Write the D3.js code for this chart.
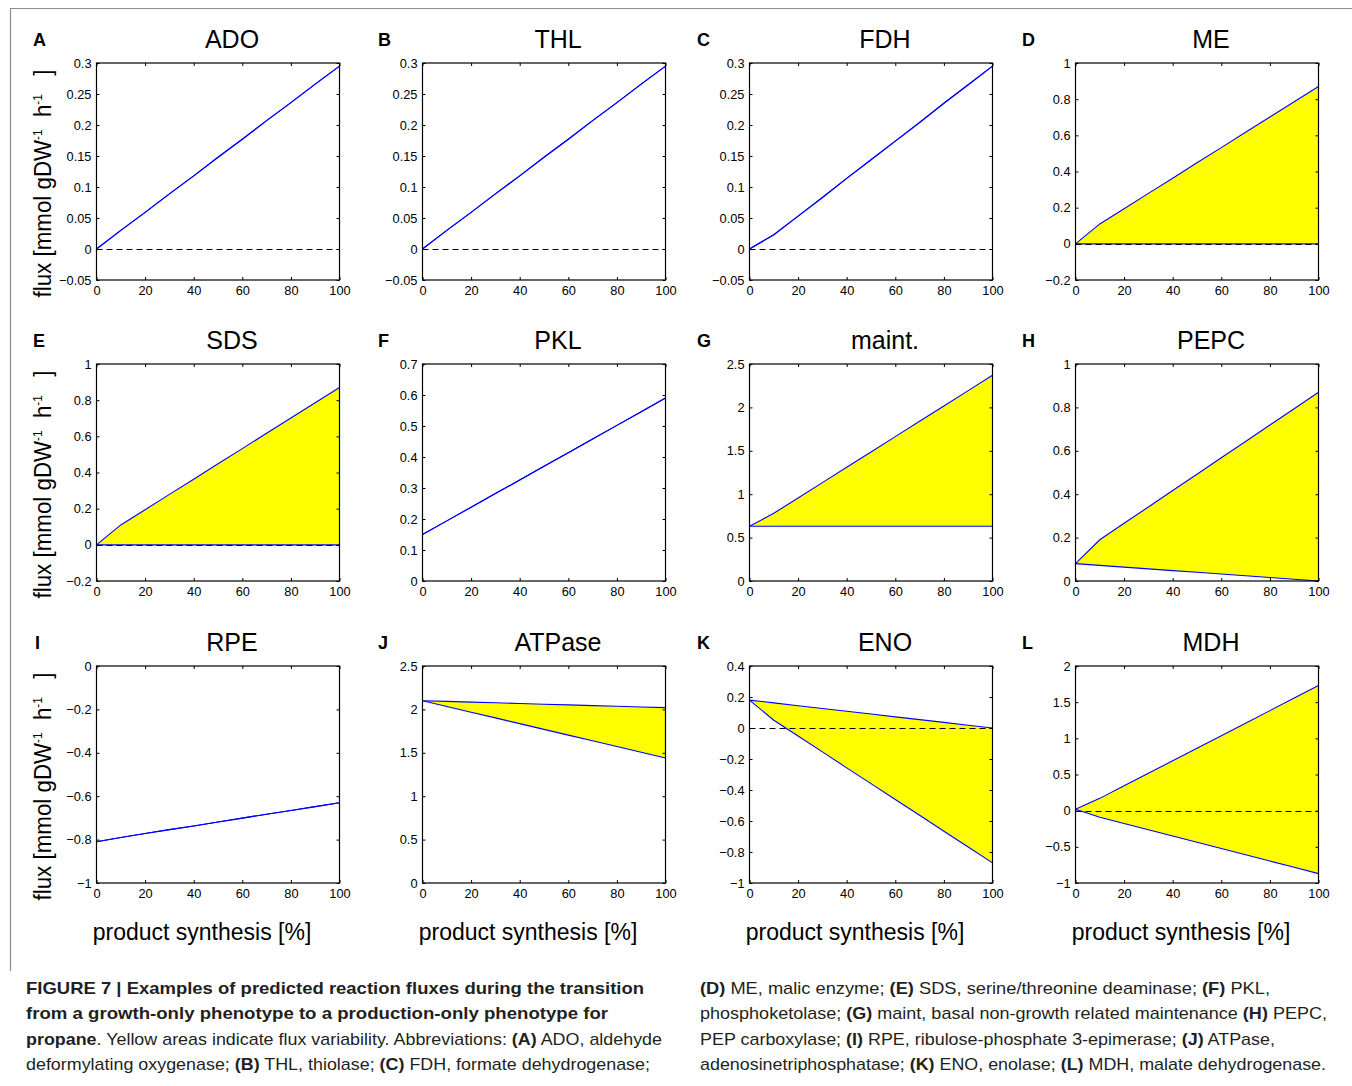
<!DOCTYPE html>
<html>
<head>
<meta charset="utf-8">
<script src="https://cdn.jsdelivr.net/npm/d3@7"></script>
<style>
body { margin: 0; background: #fff; }
text { font-family: "Liberation Sans", Arial, Helvetica, sans-serif; }
</style>
</head>
<body>
<svg id="fig" width="1352" height="1086"></svg>
<script>
// product synthesis steps (%)
var xPct = [0, 10, 20, 30, 40, 50, 60, 70, 80, 90, 100];
var xTicks = [0, 20, 40, 60, 80, 100];

// fluxes (mmol gDW-1 h-1)
var adoFlux = [0, 0.03, 0.059, 0.089, 0.118, 0.148, 0.177, 0.207, 0.236, 0.266, 0.295];
var thlFlux = [0, 0.03, 0.059, 0.089, 0.118, 0.148, 0.177, 0.207, 0.236, 0.266, 0.295];
var fdhFlux = [0, 0.023, 0.053, 0.083, 0.114, 0.144, 0.174, 0.204, 0.235, 0.265, 0.295];
var meMax = [0, 0.11, 0.194, 0.279, 0.363, 0.448, 0.532, 0.617, 0.701, 0.786, 0.87];
var meMin = [0, 0, 0, 0, 0, 0, 0, 0, 0, 0, 0];
var sdsMax = [0, 0.11, 0.194, 0.279, 0.363, 0.448, 0.532, 0.617, 0.701, 0.786, 0.87];
var sdsMin = [0, 0, 0, 0, 0, 0, 0, 0, 0, 0, 0];
var pklFlux = [0.15, 0.194, 0.238, 0.282, 0.326, 0.37, 0.414, 0.458, 0.502, 0.546, 0.59];
var maintMax = [0.63, 0.78, 0.957, 1.133, 1.31, 1.487, 1.663, 1.84, 2.017, 2.193, 2.37];
var maintMin = [0.63, 0.63, 0.63, 0.63, 0.63, 0.63, 0.63, 0.63, 0.63, 0.63, 0.63];
var pepcMax = [0.08, 0.19, 0.266, 0.341, 0.417, 0.492, 0.568, 0.643, 0.719, 0.794, 0.87];
var pepcMin = [0.08, 0.072, 0.064, 0.056, 0.048, 0.04, 0.032, 0.024, 0.016, 0.008, 0];
var rpeFlux = [-0.81, -0.79, -0.772, -0.754, -0.737, -0.719, -0.701, -0.683, -0.666, -0.648, -0.63];
var atpMax = [2.1, 2.092, 2.084, 2.076, 2.068, 2.06, 2.052, 2.044, 2.036, 2.028, 2.02];
var atpMin = [2.1, 2.034, 1.968, 1.902, 1.836, 1.77, 1.704, 1.638, 1.572, 1.506, 1.44];
var enoMax = [0.18, 0.162, 0.144, 0.126, 0.108, 0.09, 0.072, 0.054, 0.036, 0.018, 0];
var enoMin = [0.18, 0.05, -0.052, -0.154, -0.257, -0.359, -0.461, -0.563, -0.666, -0.768, -0.87];
var mdhMax = [0.02, 0.17, 0.343, 0.517, 0.69, 0.863, 1.037, 1.21, 1.383, 1.557, 1.73];
var mdhMin = [0.02, -0.09, -0.177, -0.263, -0.35, -0.437, -0.523, -0.61, -0.697, -0.783, -0.87];

var letters = ["A", "B", "C", "D", "E", "F", "G", "H", "I", "J", "K", "L"];
var titles = ["ADO", "THL", "FDH", "ME", "SDS", "PKL", "maint.", "PEPC", "RPE", "ATPase", "ENO", "MDH"];
var yTicksList = [
  [-0.05, 0, 0.05, 0.1, 0.15, 0.2, 0.25, 0.3],
  [-0.05, 0, 0.05, 0.1, 0.15, 0.2, 0.25, 0.3],
  [-0.05, 0, 0.05, 0.1, 0.15, 0.2, 0.25, 0.3],
  [-0.2, 0, 0.2, 0.4, 0.6, 0.8, 1],
  [-0.2, 0, 0.2, 0.4, 0.6, 0.8, 1],
  [0, 0.1, 0.2, 0.3, 0.4, 0.5, 0.6, 0.7],
  [0, 0.5, 1, 1.5, 2, 2.5],
  [0, 0.2, 0.4, 0.6, 0.8, 1],
  [-1, -0.8, -0.6, -0.4, -0.2, 0],
  [0, 0.5, 1, 1.5, 2, 2.5],
  [-1, -0.8, -0.6, -0.4, -0.2, 0, 0.2, 0.4],
  [-1, -0.5, 0, 0.5, 1, 1.5, 2]
];
var upper = [adoFlux, thlFlux, fdhFlux, meMax, sdsMax, pklFlux, maintMax, pepcMax, rpeFlux, atpMax, enoMax, mdhMax];
var lower = [adoFlux, thlFlux, fdhFlux, meMin, sdsMin, pklFlux, maintMin, pepcMin, rpeFlux, atpMin, enoMin, mdhMin];

var captionLeft = [
  [["FIGURE 7 | Examples of predicted reaction fluxes during the transition", true]],
  [["from a growth-only phenotype to a production-only phenotype for", true]],
  [["propane", true], [". Yellow areas indicate flux variability. Abbreviations: ", false], ["(A)", true], [" ADO, aldehyde", false]],
  [["deformylating oxygenase; ", false], ["(B)", true], [" THL, thiolase; ", false], ["(C)", true], [" FDH, formate dehydrogenase;", false]]
];
var captionRight = [
  [["(D)", true], [" ME, malic enzyme; ", false], ["(E)", true], [" SDS, serine/threonine deaminase; ", false], ["(F)", true], [" PKL,", false]],
  [["phosphoketolase; ", false], ["(G)", true], [" maint, basal non-growth related maintenance ", false], ["(H)", true], [" PEPC,", false]],
  [["PEP carboxylase; ", false], ["(I)", true], [" RPE, ribulose-phosphate 3-epimerase; ", false], ["(J)", true], [" ATPase,", false]],
  [["adenosinetriphosphatase; ", false], ["(K)", true], [" ENO, enolase; ", false], ["(L)", true], [" MDH, malate dehydrogenase.", false]]
];

var svg = d3.select("#fig");
var colLeft = [96.5, 422.5, 749.5, 1075.5];
var rowTop = [63, 364, 666];
var pw = 243, ph = 217;
var letterX = [33, 378, 697, 1022];

function fmt(v) {
  var s = String(+v.toFixed(2));
  return v < 0 ? "\u2212" + s.slice(1) : s;
}

// outer frame
svg.append("path").attr("d", "M10.5,971V8.5H1352")
  .attr("fill", "none").attr("stroke", "#8c8c8c").attr("stroke-width", 1.2);

titles.forEach(function(title, i) {
  var r = Math.floor(i / 4), c = i % 4;
  var left = colLeft[c], top = rowTop[r];
  var ticks = yTicksList[i];
  var x = d3.scaleLinear().domain([0, 100]).range([left, left + pw]);
  var y = d3.scaleLinear().domain([ticks[0], ticks[ticks.length - 1]]).range([top + ph, top]);
  var g = svg.append("g");

  var pts = xPct.map(function(p, k) { return { x: p, hi: upper[i][k], lo: lower[i][k] }; });
  g.append("path").datum(pts)
    .attr("fill", "#ffff00")
    .attr("d", d3.area().x(function(d) { return x(d.x); })
      .y0(function(d) { return y(d.lo); }).y1(function(d) { return y(d.hi); }));
  [upper[i], lower[i]].forEach(function(arr) {
    g.append("path").datum(arr)
      .attr("fill", "none").attr("stroke", "#0000ff").attr("stroke-width", 1.1)
      .attr("d", d3.line().x(function(d, k) { return x(xPct[k]); }).y(function(d) { return y(d); }));
  });

  if (ticks[0] < 0 && ticks[ticks.length - 1] > 0) {
    var y0 = Math.round(y(0)) + 0.5;
    g.append("line")
      .attr("x1", x(0)).attr("x2", x(100)).attr("y1", y0).attr("y2", y0)
      .attr("stroke", "#000").attr("stroke-width", 1).attr("stroke-dasharray", "6,4");
  }

  var tickSz = -3;
  var axL = g.append("g").attr("transform", "translate(" + left + ",0)")
    .call(d3.axisLeft(y).tickValues(ticks).tickSize(tickSz).tickPadding(5).tickFormat(fmt));
  var axB = g.append("g").attr("transform", "translate(0," + (top + ph) + ")")
    .call(d3.axisBottom(x).tickValues(xTicks).tickSize(tickSz).tickPadding(6).tickFormat(d3.format("d")));
  var axR = g.append("g").attr("transform", "translate(" + (left + pw) + ",0)")
    .call(d3.axisRight(y).tickValues(ticks).tickSize(tickSz).tickFormat(""));
  var axT = g.append("g").attr("transform", "translate(0," + top + ")")
    .call(d3.axisTop(x).tickValues(xTicks).tickSize(tickSz).tickFormat(""));
  [axL, axB, axR, axT].forEach(function(a) {
    a.select(".domain").remove();
    a.selectAll("line").attr("stroke", "#000");
    a.selectAll("text").attr("fill", "#000").style("font-size", "12.8px")
      .style("font-family", "'Liberation Sans', Arial, sans-serif");
  });

  g.append("rect").attr("x", left).attr("y", top).attr("width", pw).attr("height", ph)
    .attr("fill", "none").attr("stroke", "#000").attr("stroke-width", 1.2);

  g.append("text").attr("x", left + pw / 2 + 14).attr("y", top - 15)
    .attr("text-anchor", "middle").style("font-size", "25px").text(title);
  g.append("text").attr("x", letterX[c] + (letters[i] === "I" ? 2 : 0)).attr("y", top - 17)
    .style("font-size", "18px").style("font-weight", "bold").text(letters[i]);

  if (c === 0) {
    var yl = g.append("text")
      .attr("transform", "translate(51," + (top + ph / 2 + 12) + ") rotate(-90)")
      .attr("text-anchor", "middle").style("font-size", "23px")
      .attr("xml:space", "preserve").style("white-space", "pre");
    yl.append("tspan").text("flux [mmol gDW");
    yl.append("tspan").attr("dy", -9).style("font-size", "12px").text("-1");
    yl.append("tspan").attr("dy", 9).text("  h");
    yl.append("tspan").attr("dy", -9).style("font-size", "12px").text("-1");
    yl.append("tspan").attr("dy", 9).text("   ]");
    yl.attr("textLength", 228).attr("lengthAdjust", "spacingAndGlyphs");
  }
  if (r === 2) {
    g.append("text").attr("x", left + pw / 2 - 16).attr("y", 940)
      .attr("text-anchor", "middle").style("font-size", "23px").text("product synthesis [%]");
  }
});

// caption
function caption(lines, x0, widths) {
  var base = [994, 1019, 1045, 1070];
  lines.forEach(function(segs, k) {
    var t = svg.append("text").attr("x", x0).attr("y", base[k])
      .style("font-size", "17px").attr("fill", "#231f20")
      .attr("xml:space", "preserve").style("white-space", "pre");
    segs.forEach(function(s) {
      t.append("tspan").style("font-weight", s[1] ? "bold" : "normal").text(s[0]);
    });
    t.attr("textLength", widths[k]).attr("lengthAdjust", "spacingAndGlyphs");
  });
}
caption(captionLeft, 26, [618, 582, 636, 624]);
caption(captionRight, 700, [570, 627, 575, 626]);
</script>
</body>
</html>
